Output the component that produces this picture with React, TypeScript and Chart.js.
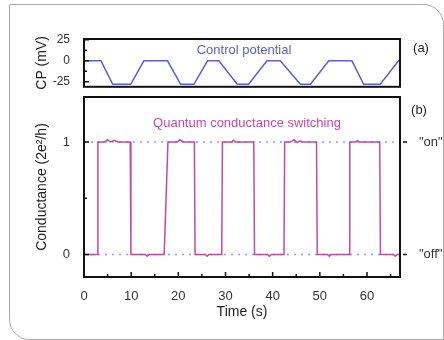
import React, { useEffect, useRef } from 'react';
import { Chart, registerables } from 'chart.js';

Chart.register(...registerables);

const FONT = "'Liberation Sans', Arial, Helvetica, sans-serif";

// ---- Time axis ----
const timeMin = 0;
const timeMax = 67;
const timeTicks = [0, 10, 20, 30, 40, 50, 60];
const timeMinorTicks = [5, 15, 25, 35, 45, 55, 65];

// ---- (a) Control potential (mV) ----
const cpTime = [0, 3.6, 6.1, 9.9, 12.7, 17.7, 20.5, 23.3, 26.2, 28.6, 32.5, 34.9, 38.8, 41.6, 45.9, 48.0, 51.9, 56.8, 59.3, 62.8, 66.7, 67];
const cpValue = [0, 0, -28, -28, 0, 0, -28, -28, 0, 0, -28, -28, 0, 0, -28, -28, 0, 0, -28, -28, 0, 0];
const cpMin = -31;
const cpMax = 26;
const cpTicks = [-25, 0, 25];
const cpMinorTicks = [-12.5, 12.5];

// ---- (b) Quantum conductance (2e^2/h) ----
const gTime = [0, 2.8, 2.95, 4.3, 5.0, 5.6, 6.4, 7.2, 9.8, 9.95, 13.0, 13.4, 13.8, 17.0, 17.8, 19.8, 20.3, 21.1, 23.4, 23.55, 25.7, 26.1, 26.5, 29.2, 29.35, 31.3, 31.7, 32.1, 36.0, 36.15, 38.9, 39.3, 39.7, 42.4, 42.55, 43.8, 44.5, 45.2, 45.8, 46.3, 49.3, 49.45, 51.6, 52.0, 52.4, 56.2, 56.35, 57.6, 58.0, 58.4, 62.7, 62.85, 65.6, 66.0, 66.4, 67];
const gValue = [0, 0, 1, 1.0, 1.02, 1.0, 1.015, 1.0, 1.0, 0, 0, -0.015, 0, 0, 1, 1.0, 1.02, 1.0, 1.0, 0, 0, -0.015, 0, 0, 1, 1.0, 1.015, 1.0, 1, 0, 0, -0.015, 0, 0, 1, 1.0, 1.02, 0.995, 1.01, 1.0, 1, 0, 0, -0.015, 0, 0, 1, 1.0, 1.012, 1.0, 1, 0, 0, -0.015, 0, 0];
const gMin = -0.2;
const gMax = 1.4;
const gTicks = [0, 1];
const gMinorTicks = [0.5];
const stateLabels = ['"off"', '"on"'];

const BLUE = '#5a62c6';
const MAGENTA = '#c24aa6';
const DOT = '#959ae8';

function drawTicks(ctx: CanvasRenderingContext2D, scale: any, values: number[], len: number, side: 'left' | 'bottom' | 'right') {
  const area = scale.chart.chartArea;
  ctx.beginPath();
  values.forEach((v) => {
    const p = scale.getPixelForValue(v);
    if (side === 'left') {
      ctx.moveTo(area.left, p);
      ctx.lineTo(area.left + len, p);
    } else if (side === 'bottom') {
      ctx.moveTo(p, area.bottom);
      ctx.lineTo(p, area.bottom - len);
    } else {
      ctx.moveTo(area.right + 3, p);
      ctx.lineTo(area.right + 3 + len, p);
    }
  });
  ctx.stroke();
}

const topPlugin = {
  id: 'topPanel',
  afterDraw(chart: any) {
    const { ctx, chartArea: a } = chart;
    ctx.save();
    ctx.strokeStyle = '#111';
    ctx.lineWidth = 2;
    ctx.strokeRect(a.left, a.top, a.right - a.left, a.bottom - a.top);
    ctx.lineWidth = 1.5;
    drawTicks(ctx, chart.scales.y, cpTicks, 5, 'left');
    drawTicks(ctx, chart.scales.y, cpMinorTicks, 3, 'left');
    ctx.font = `13px ${FONT}`;
    ctx.textAlign = 'center';
    ctx.textBaseline = 'middle';
    ctx.fillStyle = BLUE;
    ctx.fillText('Control potential', 244, 50);
    ctx.fillStyle = '#222';
    ctx.fillText('(a)', 421, 48);
    ctx.restore();
  },
};

const bottomPlugin = {
  id: 'bottomPanel',
  beforeDraw(chart: any) {
    const { ctx } = chart;
    ctx.save();
    ctx.strokeStyle = '#aaaaaa';
    ctx.lineWidth = 1;
    const r = 20;
    const L = 9.5, T = 4.5, R = 443.5, B = 339.5;
    ctx.beginPath();
    ctx.moveTo(R, 340);
    ctx.lineTo(R, T + r);
    ctx.arcTo(R, T, R - r, T, r);
    ctx.lineTo(L, T);
    ctx.lineTo(L, B - r);
    ctx.arcTo(L, B, L + r, B, r);
    ctx.lineTo(445, B);
    ctx.stroke();
    ctx.restore();
  },
  afterDraw(chart: any) {
    const { ctx, chartArea: a } = chart;
    ctx.save();
    ctx.strokeStyle = '#111';
    ctx.lineWidth = 2;
    ctx.strokeRect(a.left, a.top, a.right - a.left, a.bottom - a.top);
    ctx.lineWidth = 1.5;
    drawTicks(ctx, chart.scales.y, gTicks, 5, 'left');
    drawTicks(ctx, chart.scales.y, gMinorTicks, 3, 'left');
    drawTicks(ctx, chart.scales.x, timeTicks, 5, 'bottom');
    drawTicks(ctx, chart.scales.x, timeMinorTicks, 3, 'bottom');
    drawTicks(ctx, chart.scales.yR, gTicks, 4, 'right');
    ctx.font = `13px ${FONT}`;
    ctx.textAlign = 'center';
    ctx.textBaseline = 'middle';
    ctx.fillStyle = MAGENTA;
    ctx.fillText('Quantum conductance switching', 247, 123);
    ctx.fillStyle = '#222';
    ctx.fillText('(b)', 419, 110);
    ctx.restore();
  },
};

const pts = (xs: number[], ys: number[]) => xs.map((x, i) => ({ x, y: ys[i] }));

export default function App() {
  const topRef = useRef<HTMLCanvasElement>(null);
  const botRef = useRef<HTMLCanvasElement>(null);

  useEffect(() => {
    Chart.defaults.font.family = FONT;
    const tickFont = { size: 12, family: FONT };
    const titleFont = { size: 14, family: FONT };

    const bottom = new Chart(botRef.current!, {
      type: 'line',
      data: {
        datasets: [
          {
            data: pts(gTime, gValue),
            borderColor: MAGENTA,
            borderWidth: 1.5,
            pointRadius: 0,
            tension: 0,
            order: 0,
          },
          {
            data: pts([timeMin, timeMax], [gTicks[1], gTicks[1]]),
            borderColor: DOT,
            borderWidth: 1.5,
            borderDash: [2, 5],
            pointRadius: 0,
            order: 1,
          },
          {
            data: pts([timeMin, timeMax], [gTicks[0], gTicks[0]]),
            borderColor: DOT,
            borderWidth: 1.5,
            borderDash: [2, 5],
            pointRadius: 0,
            order: 1,
          },
        ],
      },
      options: {
        animation: false,
        responsive: false,
        devicePixelRatio: 1,
        layout: { padding: { left: 0, right: 0, top: 97, bottom: 0 } },
        plugins: { legend: { display: false }, tooltip: { enabled: false } },
        scales: {
          x: {
            type: 'linear',
            min: timeMin,
            max: timeMax,
            position: 'bottom',
            afterBuildTicks: (s: any) => { s.ticks = timeTicks.map((v) => ({ value: v })); },
            afterFit: (s: any) => { s.height = 63; },
            grid: { display: false },
            border: { display: false },
            ticks: { padding: 4, color: '#333', font: { size: 13, family: FONT }, maxRotation: 0, autoSkip: false },
            title: { display: true, text: 'Time (s)', color: '#222', font: titleFont, padding: { top: 0, bottom: 19.6 } },
          },
          y: {
            type: 'linear',
            min: gMin,
            max: gMax,
            position: 'left',
            afterBuildTicks: (s: any) => { s.ticks = gTicks.map((v) => ({ value: v })); },
            afterFit: (s: any) => { s.width = 84; },
            grid: { display: false },
            border: { display: false },
            ticks: { padding: 6, color: '#333', font: { size: 13, family: FONT } },
            title: { display: true, text: 'Conductance (2e²/h)', color: '#222', font: titleFont, padding: { top: 33.6, bottom: 0 } },
          },
          yR: {
            type: 'linear',
            min: gMin,
            max: gMax,
            position: 'right',
            afterBuildTicks: (s: any) => { s.ticks = gTicks.map((v) => ({ value: v })); },
            afterFit: (s: any) => { s.width = 44; },
            grid: { display: false },
            border: { display: false },
            ticks: {
              padding: 11,
              color: '#333',
              font: { size: 13, family: FONT },
              callback: (v: any) => stateLabels[gTicks.indexOf(Number(v))],
            },
          },
        },
      },
      plugins: [bottomPlugin],
    } as any);

    const top = new Chart(topRef.current!, {
      type: 'line',
      data: {
        datasets: [
          {
            data: pts(cpTime, cpValue),
            borderColor: BLUE,
            borderWidth: 1.5,
            pointRadius: 0,
            tension: 0,
          },
        ],
      },
      options: {
        animation: false,
        responsive: false,
        devicePixelRatio: 1,
        layout: { padding: { left: 0, right: 44, top: 39, bottom: 11 } },
        plugins: { legend: { display: false }, tooltip: { enabled: false } },
        scales: {
          x: { type: 'linear', min: timeMin, max: timeMax, display: false },
          y: {
            type: 'linear',
            min: cpMin,
            max: cpMax,
            position: 'left',
            afterBuildTicks: (s: any) => { s.ticks = cpTicks.map((v) => ({ value: v })); },
            afterFit: (s: any) => { s.width = 84; },
            grid: { display: false },
            border: { display: false },
            ticks: { padding: 6, color: '#333', font: tickFont },
            title: { display: true, text: 'CP (mV)', color: '#222', font: titleFont, padding: { top: 33.6, bottom: 0 } },
          },
        },
      },
      plugins: [topPlugin],
    } as any);

    return () => {
      top.destroy();
      bottom.destroy();
    };
  }, []);

  return (
    <div style={{ position: 'fixed', left: 0, top: 0, width: 444, height: 340, background: '#fff', overflow: 'hidden' }}>
      <canvas ref={botRef} width={444} height={340} style={{ position: 'absolute', left: 0, top: 0, width: 444, height: 340 }} />
      <canvas ref={topRef} width={444} height={100} style={{ position: 'absolute', left: 0, top: 0, width: 444, height: 100 }} />
    </div>
  );
}
